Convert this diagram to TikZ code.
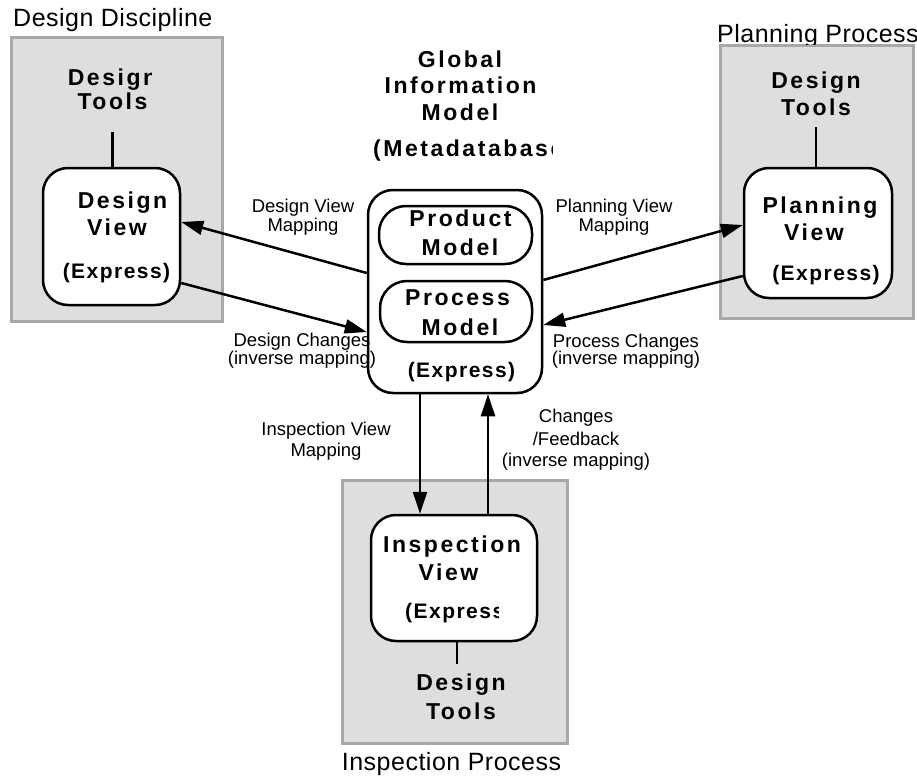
\documentclass[tikz,border=0pt]{standalone}
\usepackage{fontspec}
\setmainfont{Liberation Sans}
\usetikzlibrary{arrows.meta}
\definecolor{boxgray}{HTML}{DEDEDE}
\definecolor{boxedge}{HTML}{A8A8A8}
\newcommand{\ftbig}{\fontsize{25}{29}\selectfont\addfontfeature{LetterSpace=2}}
\newcommand{\fttitle}{\fontsize{23}{27}\selectfont\bfseries\addfontfeature{LetterSpace=11}}
\newcommand{\ftname}{\fontsize{23}{27}\selectfont\bfseries\addfontfeature{LetterSpace=11}}
\newcommand{\ftexpr}{\fontsize{21}{25}\selectfont\bfseries\addfontfeature{LetterSpace=7}}
\newcommand{\ftlbl}{\fontsize{18.5}{20}\selectfont}
\begin{document}
\begin{tikzpicture}[x=1pt,y=-1pt,
  area/.style={draw=boxedge, fill=boxgray, line width=3pt, inner sep=0},
  viewbox/.style={draw=black, fill=white, line width=2.5pt, rounded corners=25pt, inner sep=0},
  pillbox/.style={viewbox, rounded corners=27pt},
  bigtxt/.style={font=\ftbig, anchor=base west, inner sep=0},
  ttltxt/.style={font=\fttitle, anchor=base, inner sep=0},
  nmtxt/.style={font=\ftname, anchor=base, inner sep=0},
  exprtxt/.style={font=\ftexpr, anchor=base, inner sep=0},
  lbltxt/.style={font=\ftlbl, anchor=base, inner sep=0},
  conn/.style={line width=2.5pt},
  arr/.style={line width=2.5pt, -{Triangle[length=22pt,width=14pt]}}
]
\useasboundingbox (0,0) rectangle (917,776);

% gray areas
\node[area, minimum width=211pt, minimum height=283pt] (ga) at (116.5,179.5) {};
\node[area, minimum width=193pt, minimum height=272pt] (gb) at (816.5,182) {};
\node[area, minimum width=225pt, minimum height=263pt] (gc) at (454.5,611.5) {};

% rounded boxes
\node[viewbox, minimum width=137pt, minimum height=137pt] (dv) at (111.5,236.5) {};
\node[viewbox, minimum width=148pt, minimum height=130pt] (pv) at (818,233) {};
\node[viewbox, minimum width=166pt, minimum height=126pt] (iv) at (454,578) {};
\node[viewbox, minimum width=174pt, minimum height=203pt] (glob) at (455,291.5) {};
\node[pillbox, minimum width=153pt, minimum height=58pt] (prod) at (455.5,235) {};
\node[pillbox, minimum width=152pt, minimum height=61pt] (proc) at (456,311.5) {};

% area labels
\begin{scope}
  \clip (0,0) rectangle (210,40);
  \node[bigtxt] (lab1) at (13,27) {Design Discipline};
\end{scope}
\begin{scope}
  \clip (700,0) rectangle (917,45);
  \node[bigtxt] (lab2) at (717,42) {Planning Process};
\end{scope}
\node[bigtxt, anchor=base] (lab3) at (451.5,770) {Inspection Process};

% title
\node[ttltxt] (t1) at (460,67) {Global};
\node[ttltxt] (t2) at (460.5,93) {Information};
\node[ttltxt] (t3) at (460,120) {Model};
\begin{scope}
  \clip (360,125) rectangle (552,170);
  \node[ttltxt, anchor=base west] (t4) at (373,156) {(Metadatabase)};
\end{scope}

% design tools
\begin{scope}
  \clip (40,50) rectangle (151,95);
  \node[nmtxt] (lt1) at (112.5,85) {Design};
\end{scope}
\node[nmtxt] (lt2) at (112.5,109) {Tools};
\node[nmtxt] (rt1) at (816,88) {Design};
\node[nmtxt] (rt2) at (816,115) {Tools};
\node[nmtxt] (bt1) at (461,690) {Design};
\node[nmtxt] (bt2) at (461,719) {Tools};

% view texts
\node[nmtxt] (dvt1) at (122.5,208) {Design};
\node[nmtxt] (dvt2) at (117,235) {View};
\node[exprtxt] (dvt3) at (116.5,278) {(Express)};
\node[nmtxt] (pvt1) at (820,213) {Planning};
\node[nmtxt] (pvt2) at (814,240) {View};
\node[exprtxt] (pvt3) at (826,280) {(Express)};
\node[nmtxt] (ivt1) at (452,552) {Inspection};
\node[nmtxt] (ivt2) at (448.5,580) {View};
\begin{scope}
  \clip (380,590) rectangle (498,630);
  \node[exprtxt, anchor=base west] (ivt3) at (405,618) {(Express)};
\end{scope}

% global inner texts
\node[nmtxt] (gt1) at (460.5,226) {Product};
\node[nmtxt] (gt2) at (460,255) {Model};
\node[nmtxt] (gt3) at (457.5,305) {Process};
\node[nmtxt] (gt4) at (460,335) {Model};
\node[exprtxt] (gt5) at (461.5,377) {(Express)};

% small labels
\node[lbltxt] (l1a) at (303,212) {Design View};
\node[lbltxt] (l1b) at (303,231) {Mapping};
\node[lbltxt] (l2a) at (614,212) {Planning View};
\node[lbltxt] (l2b) at (614,231) {Mapping};
\node[lbltxt] (l3a) at (302,346) {Design Changes};
\node[lbltxt] (l3b) at (302,364) {(inverse mapping)};
\node[lbltxt] (l4a) at (626,347) {Process Changes};
\node[lbltxt] (l4b) at (626,364) {(inverse mapping)};
\node[lbltxt] (l5a) at (326,435) {Inspection View};
\node[lbltxt] (l5b) at (326,456) {Mapping};
\node[lbltxt] (l6a) at (576,422) {Changes};
\node[lbltxt] (l6b) at (576,445) {/Feedback};
\node[lbltxt] (l6c) at (576,466) {(inverse mapping)};

% tool links
\draw[conn] ([yshift=-23pt]lt2.south) -- (lt2.south |- dv.north);
\draw[conn] ([yshift=-12pt]rt2.south) -- (rt2.south |- pv.north);
\draw[conn, shorten >=9pt] ([xshift=3pt]iv.south) -- ([xshift=3pt]iv.south |- bt1.north);

% mapping arrows
\draw[arr] ([yshift=18.5pt]glob.west) -- ([yshift=14.5pt]dv.east);
\draw[arr] ([yshift=-46.5pt]dv.east) -- ([yshift=-40.5pt]glob.west);
\draw[arr] ([yshift=11.5pt]glob.east) -- ([yshift=8pt]pv.west);
\draw[arr] ([yshift=-43pt]pv.west) -- ([yshift=-33.5pt]glob.east);
\draw[arr] ([xshift=-35pt]glob.south) -- ([xshift=-34pt]iv.north);
\draw[arr] ([xshift=34pt]iv.north) -- ([xshift=33pt]glob.south);
\end{tikzpicture}
\end{document}
